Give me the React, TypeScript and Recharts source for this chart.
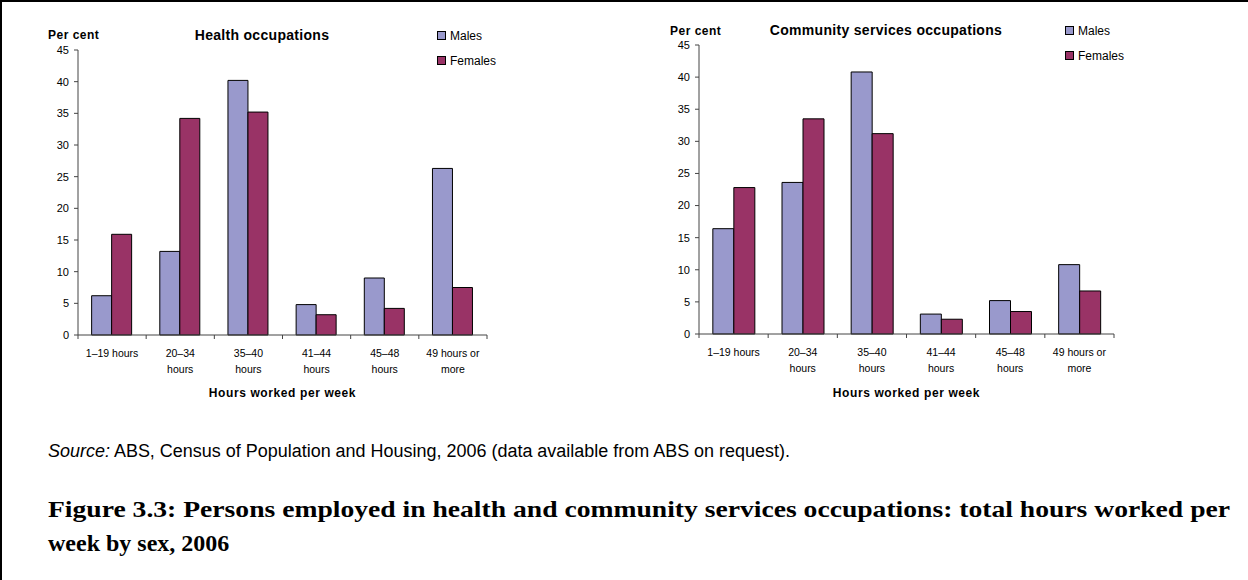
import React from "react";
import { BarChart, Bar, XAxis, YAxis, Legend, Label } from "recharts";

const categories = [
  "1–19 hours",
  "20–34\nhours",
  "35–40\nhours",
  "41–44\nhours",
  "45–48\nhours",
  "49 hours or\nmore",
];
const seriesNames = ["Males", "Females"];
const healthMales = [6.2, 13.2, 40.2, 4.8, 9.0, 26.3];
const healthFemales = [15.9, 34.2, 35.2, 3.2, 4.2, 7.5];
const communityMales = [16.4, 23.6, 40.8, 3.1, 5.2, 10.8];
const communityFemales = [22.8, 33.5, 31.2, 2.3, 3.5, 6.7];
const yTicks = [0, 5, 10, 15, 20, 25, 30, 35, 40, 45];

const MALE = "#9999cc";
const FEMALE = "#993366";
const SANS = "'Liberation Sans', Arial, sans-serif";

const CategoryTick = (props: any) => {
  const { x, y, payload, index, band, count } = props;
  const half = payload && payload.offset ? payload.offset : band / 2;
  const axisY = y - 6;
  const lines = String(payload.value).split("\n");
  return (
    <g>
      <line x1={x - half} x2={x - half} y1={axisY} y2={axisY + 4} stroke="#444" />
      {index === count - 1 && (
        <line x1={x + half} x2={x + half} y1={axisY} y2={axisY + 4} stroke="#444" />
      )}
      {lines.map((l, i) => (
        <text
          key={i}
          x={x}
          y={axisY + 22 + i * 16}
          textAnchor="middle"
          fontSize={10.5}
          fontFamily={SANS}
          fill="#000"
        >
          {l}
        </text>
      ))}
    </g>
  );
};

const renderLegend = (props: any) => {
  const items = [...(props.payload || [])].sort(
    (a: any, b: any) => seriesNames.indexOf(a.value) - seriesNames.indexOf(b.value)
  );
  return (
    <div style={{ fontFamily: SANS, fontSize: 12, color: "#000" }}>
      {items.map((entry: any) => (
        <div
          key={entry.value}
          style={{ display: "flex", alignItems: "center", height: 25 }}
        >
          <span
            style={{
              display: "inline-block",
              width: 7,
              height: 7,
              background: entry.color,
              border: "1px solid #000",
              marginRight: 4,
            }}
          />
          {entry.value}
        </div>
      ))}
    </div>
  );
};

interface HoursChartProps {
  males: number[];
  females: number[];
  width: number;
  top: number;
  bottom: number;
  legendLeft: number;
  legendTop: number;
}

const HoursChart = ({ males, females, width, top, bottom, legendLeft, legendTop }: HoursChartProps) => {
  const data = categories.map((name, i) => ({
    name,
    [seriesNames[0]]: males[i],
    [seriesNames[1]]: females[i],
  }));
  const marginLeft = 48;
  const marginRight = 13;
  const yWidth = 30;
  const band = (width - marginLeft - marginRight - yWidth) / categories.length;
  const height = 400;
  return (
    <BarChart
      width={width}
      height={height}
      data={data}
      margin={{ top, right: marginRight, left: marginLeft, bottom: 0 }}
      barCategoryGap="20%"
      barGap={0}
    >
      <XAxis
        dataKey="name"
        height={height - bottom}
        axisLine={{ stroke: "#444" }}
        tickLine={false}
        tickSize={4}
        tickMargin={2}
        interval={0}
        tick={(p: any) => <CategoryTick {...p} band={band} count={categories.length} />}
      >
        <Label
          value="Hours worked per week"
          position="insideBottom"
          offset={3}
          style={{ fontFamily: SANS, fontSize: 12, fontWeight: "bold", letterSpacing: 0.6, fill: "#000" }}
        />
      </XAxis>
      <YAxis
        width={yWidth}
        domain={[0, 45]}
        ticks={yTicks}
        interval={0}
        axisLine={{ stroke: "#444" }}
        tickLine={{ stroke: "#444" }}
        tickSize={4}
        tickMargin={5}
        tick={{ fontSize: 11, fontFamily: SANS, fill: "#000" }}
      />
      <Legend
        layout="vertical"
        align="center"
        verticalAlign="middle"
        content={renderLegend}
        wrapperStyle={{ left: legendLeft, top: legendTop, width: "auto", height: "auto" }}
      />
      <Bar dataKey={seriesNames[0]} fill={MALE} stroke="#000" strokeWidth={1} isAnimationActive={false} />
      <Bar dataKey={seriesNames[1]} fill={FEMALE} stroke="#000" strokeWidth={1} isAnimationActive={false} />
    </BarChart>
  );
};

export default function App() {
  return (
    <div
      style={{
        position: "absolute",
        left: 0,
        top: 0,
        width: 1248,
        height: 580,
        background: "#fff",
        borderTop: "2px solid #000",
        borderLeft: "2px solid #000",
        boxSizing: "border-box",
        overflow: "hidden",
      }}
    >
      <div style={{ position: "absolute", left: -2, top: -2 }}>
        <HoursChart
          males={healthMales}
          females={healthFemales}
          width={500}
          top={50}
          bottom={335}
          legendLeft={437}
          legendTop={23}
        />
      </div>
      <div style={{ position: "absolute", left: 619, top: -2 }}>
        <HoursChart
          males={communityMales}
          females={communityFemales}
          width={506}
          top={45}
          bottom={334}
          legendLeft={444}
          legendTop={18}
        />
      </div>
      <svg
        width={1248}
        height={580}
        style={{ position: "absolute", left: -2, top: -2, pointerEvents: "none" }}
      >
        <g fontFamily={SANS} fontWeight="bold" fill="#000">
          <text x={48} y={39} fontSize={12} letterSpacing={0.5}>Per cent</text>
          <text x={262} y={40} fontSize={14} letterSpacing={0.3} textAnchor="middle">
            Health occupations
          </text>
          <text x={670} y={35} fontSize={12} letterSpacing={0.5}>Per cent</text>
          <text x={886} y={35} fontSize={14} letterSpacing={0.3} textAnchor="middle">
            Community services occupations
          </text>
        </g>
        <text x={48} y={457} fontFamily={SANS} fontSize={18} fill="#000" textLength={742} lengthAdjust="spacingAndGlyphs">
          <tspan fontStyle="italic">Source:</tspan> ABS, Census of Population and Housing, 2006
          (data available from ABS on request).
        </text>
        <g fontFamily="'Liberation Serif', 'Times New Roman', serif" fontWeight="bold" fontSize={24} fill="#000">
          <text x={48} y={517} textLength={1182} lengthAdjust="spacingAndGlyphs">
            Figure 3.3: Persons employed in health and community services occupations: total hours worked per
          </text>
          <text x={48} y={551}>week by sex, 2006</text>
        </g>
      </svg>
    </div>
  );
}
